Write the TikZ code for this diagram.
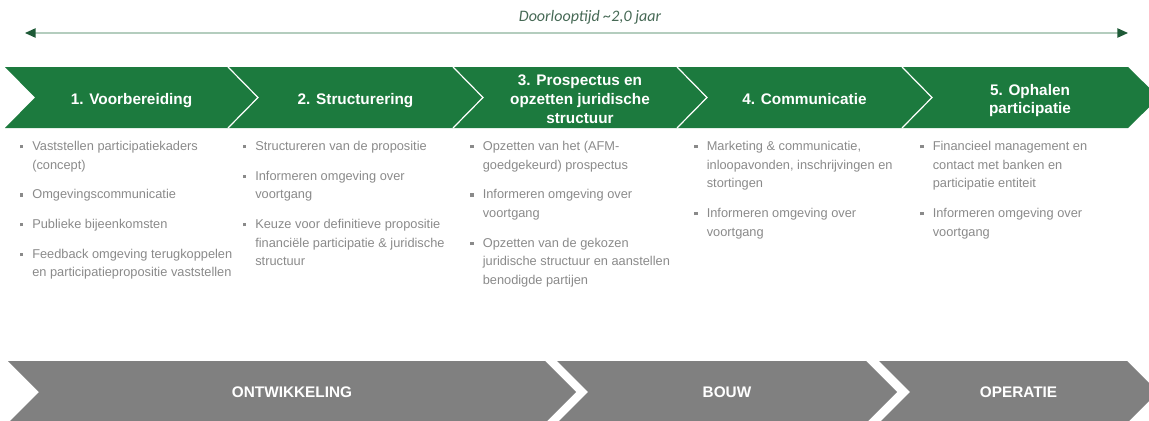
\documentclass[tikz,border=0pt]{standalone}
\usepackage{fontspec}
\setmainfont{Liberation Sans}
\newfontfamily\calib{Carlito}
\usetikzlibrary{arrows.meta}
\definecolor{pgreen}{RGB}{28,122,62}
\definecolor{pgrey}{RGB}{128,128,128}
\definecolor{txtgrey}{RGB}{138,138,138}
\definecolor{arrline}{RGB}{180,205,190}
\definecolor{arrhead}{RGB}{30,90,55}
\definecolor{durtext}{RGB}{70,105,85}
\newcommand\bul{\makebox[9.4pt][l]{\rule[1.6pt]{2.6pt}{2.6pt}}}
\newcommand\ig{8.25pt}
\begin{document}
\begin{tikzpicture}[x=0.75pt,y=-0.75pt,
  ttl/.style={text=white, font=\fontsize{11.5}{14}\selectfont\bfseries, align=center, inner sep=0pt},
  btxt/.style={text=txtgrey, font=\fontsize{9.6}{14}\selectfont, inner sep=0pt, anchor=base west},
  phase/.style={text=white, font=\fontsize{11.5}{14}\selectfont\bfseries, inner sep=0pt},
  dur/.style={text=durtext, font=\calib\itshape\fontsize{12}{14}\selectfont, inner sep=0pt, anchor=base},
  durarrow/.style={draw=arrline, line width=1.1pt, {Triangle[length=8pt,width=7pt,color=arrhead]}-{Triangle[length=8pt,width=7pt,color=arrhead]}},
  gband/.style={fill=pgreen},
  gsep/.style={draw=white, line width=0.9pt},
  pchev/.style={fill=pgrey}]
\useasboundingbox (0,0) rectangle (1149,421);
\clip (0,0) rectangle (1149,421);

% duration arrow
\node[dur] (dur) at (590,21.5) {Doorlooptijd \char"007E 2,0 jaar};
\coordinate (al) at (25,33);
\coordinate (ar) at (1128,33);
\draw[durarrow] (al) -- (ar);

% green band
\fill[gband] (5,67) -- (1128,67) -- (1159,97.5) -- (1128,128) -- (5,128) -- (35,97.5) -- cycle;
\foreach \s in {228,453,677,902}
  \draw[gsep] (\s,67) -- (\s+30,97.5) -- (\s,128);

\node[ttl] (t1) at (131.5,100.8) {\strut 1. Voorbereiding\strut};
\node[ttl] (t2) at (355.5,100.8) {\strut 2. Structurering\strut};
\node[ttl] (t3) at (580,100.8) {\strut 3. Prospectus en\\opzetten juridische\\structuur\strut};
\node[ttl] (t4) at (804.5,100.8) {\strut 4. Communicatie\strut};
\node[ttl] (t5) at (1030,100.8) {\strut 5. Ophalen\\participatie\strut};

% bullet columns
\node[btxt] (c1) at (19.5,150.5) {\begin{tabular}[t]{@{}l@{}l@{}}
\bul & Vaststellen participatiekaders\\
 & (concept)\\[\ig]
\bul & Omgevingscommunicatie\\[\ig]
\bul & Publieke bijeenkomsten\\[\ig]
\bul & Feedback omgeving terugkoppelen\\
 & en participatiepropositie vaststellen
\end{tabular}};

\node[btxt] (c2) at (242.5,150.5) {\begin{tabular}[t]{@{}l@{}l@{}}
\bul & Structureren van de propositie\\[\ig]
\bul & Informeren omgeving over\\
 & voortgang\\[\ig]
\bul & Keuze voor definitieve propositie\\
 & financiële participatie \& juridische\\
 & structuur
\end{tabular}};

\node[btxt] (c3) at (470,150.5) {\begin{tabular}[t]{@{}l@{}l@{}}
\bul & Opzetten van het (AFM-\\
 & goedgekeurd) prospectus\\[\ig]
\bul & Informeren omgeving over\\
 & voortgang\\[\ig]
\bul & Opzetten van de gekozen\\
 & juridische structuur en aanstellen\\
 & benodigde partijen
\end{tabular}};

\node[btxt] (c4) at (694,150.5) {\begin{tabular}[t]{@{}l@{}l@{}}
\bul & Marketing \& communicatie,\\
 & inloopavonden, inschrijvingen en\\
 & stortingen\\[\ig]
\bul & Informeren omgeving over\\
 & voortgang
\end{tabular}};

\node[btxt] (c5) at (920,150.5) {\begin{tabular}[t]{@{}l@{}l@{}}
\bul & Financieel management en\\
 & contact met banken en\\
 & participatie entiteit\\[\ig]
\bul & Informeren omgeving over\\
 & voortgang
\end{tabular}};

% grey phase band
\fill[pchev] (8,361) -- (545,361) -- (576,392) -- (545,423) -- (8,423) -- (39,392) -- cycle;
\fill[pchev] (557,361) -- (866,361) -- (897,392) -- (866,423) -- (557,423) -- (588,392) -- cycle;
\fill[pchev] (879,361) -- (1127,361) -- (1158,392) -- (1127,423) -- (879,423) -- (910,392) -- cycle;

\node[phase] (p1) at (292,393.5) {\strut ONTWIKKELING\strut};
\node[phase] (p2) at (727,393.5) {\strut BOUW\strut};
\node[phase] (p3) at (1018.5,393.5) {\strut OPERATIE\strut};
\end{tikzpicture}
\end{document}
